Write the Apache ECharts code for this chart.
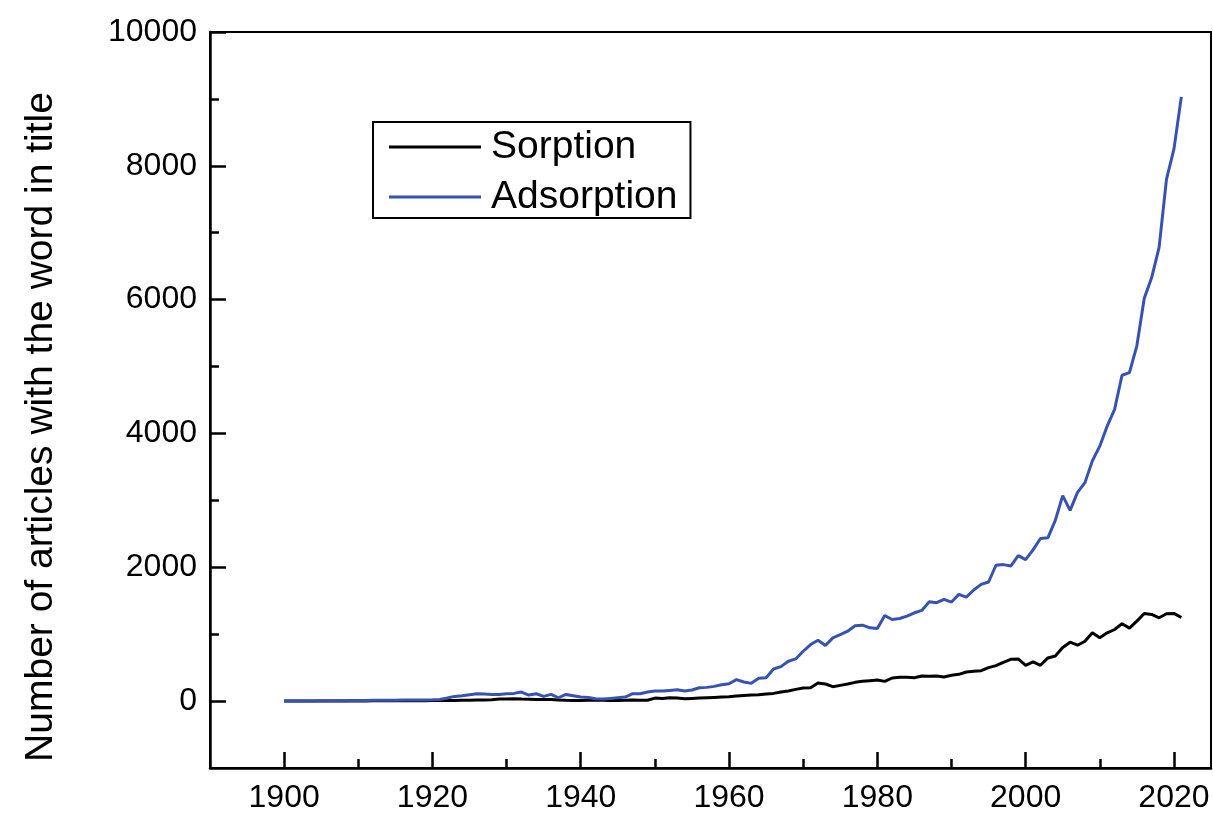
<!DOCTYPE html>
<html lang="en">

<head>
    <meta charset="UTF-8">
    <script type="text/javascript" src="https://cdn.jsdelivr.net/npm/echarts@6/dist/echarts.min.js"></script>
    <title>Sorption / Adsorption</title>
    <style type="text/css">
        html, body {
            margin: 0;
            padding: 0;
            background: #fff;
        }

        #chart {
            width: 1213px;
            height: 814px;
        }
    </style>
</head>

<body>
<div id="chart"></div>
<script type="text/javascript">
    const years = [
        1900, 1901, 1902, 1903, 1904, 1905, 1906, 1907, 1908, 1909,
        1910, 1911, 1912, 1913, 1914, 1915, 1916, 1917, 1918, 1919,
        1920, 1921, 1922, 1923, 1924, 1925, 1926, 1927, 1928, 1929,
        1930, 1931, 1932, 1933, 1934, 1935, 1936, 1937, 1938, 1939,
        1940, 1941, 1942, 1943, 1944, 1945, 1946, 1947, 1948, 1949,
        1950, 1951, 1952, 1953, 1954, 1955, 1956, 1957, 1958, 1959,
        1960, 1961, 1962, 1963, 1964, 1965, 1966, 1967, 1968, 1969,
        1970, 1971, 1972, 1973, 1974, 1975, 1976, 1977, 1978, 1979,
        1980, 1981, 1982, 1983, 1984, 1985, 1986, 1987, 1988, 1989,
        1990, 1991, 1992, 1993, 1994, 1995, 1996, 1997, 1998, 1999,
        2000, 2001, 2002, 2003, 2004, 2005, 2006, 2007, 2008, 2009,
        2010, 2011, 2012, 2013, 2014, 2015, 2016, 2017, 2018, 2019,
        2020, 2021
    ];

    const sorption = [
        0, 0, 0, 0, 0, 0, 0, 0, 0, 2,
        3, 3, 4, 4, 5, 5, 5, 5, 6, 6,
        8, 8, 10, 10, 12, 12, 15, 15, 20, 30,
        30, 35, 30, 28, 25, 25, 22, 15, 12, 10,
        10, 12, 15, 12, 10, 10, 12, 15, 12, 12,
        45, 40, 50, 45, 35, 40, 45, 50, 55, 60,
        65, 75, 85, 90, 95, 105, 115, 135, 150, 175,
        195, 200, 270, 255, 215, 235, 255, 280, 295, 305,
        315, 295, 345, 355, 355, 350, 375, 370, 375, 360,
        385, 400, 435, 445, 455, 500, 530, 580, 625, 630,
        535, 585, 535, 645, 675, 800, 880, 835, 895, 1020,
        945, 1020, 1070, 1155, 1090, 1195, 1310, 1295, 1245, 1305,
        1310, 1250
    ];

    const adsorption = [
        0, 0, 2, 3, 3, 4, 5, 5, 6, 8,
        10, 10, 12, 12, 14, 14, 15, 15, 16, 18,
        20, 25, 45, 70, 80, 95, 110, 105, 100, 100,
        110, 115, 135, 90, 110, 70, 100, 50, 100, 80,
        60, 55, 35, 30, 40, 50, 60, 110, 110, 135,
        150, 150, 160, 170, 150, 165, 200, 205, 220, 245,
        260, 320, 285, 265, 340, 350, 480, 515, 595, 630,
        745, 845, 910, 830, 945, 995, 1045, 1125, 1135, 1095,
        1085, 1280, 1220, 1235, 1270, 1320, 1355, 1485, 1470, 1520,
        1480, 1595, 1555, 1660, 1745, 1780, 2030, 2040, 2018, 2175,
        2115, 2260, 2430, 2440, 2700, 3070, 2850, 3120, 3265, 3590,
        3810, 4110, 4360, 4870, 4910, 5310, 6020, 6330, 6780, 7800,
        8250, 9030
    ];

    const xMajor = [1900, 1920, 1940, 1960, 1980, 2000, 2020];
    const xMinor = [1910, 1930, 1950, 1970, 1990, 2010];
    const yMajor = [0, 2000, 4000, 6000, 8000, 10000];
    const yMinor = [1000, 3000, 5000, 7000, 9000];

    const font = "'Liberation Sans', Arial, sans-serif";
    let chart = echarts.init(document.getElementById('chart'));

    function pairs(values) {
        return years.map((y, i) => [y, values[i]]);
    }

    function plain(v) {
        return String(v);
    }

    let tick = {color: '#000', width: 2.5};

    let option = {
        animation: false,
        grid: {
            left: 210,
            right: 2,
            top: 32,
            bottom: 46,
            show: true,
            borderColor: '#000',
            borderWidth: 2
        },
        legend: {
            data: ['Sorption', 'Adsorption'],
            orient: 'vertical',
            left: 373,
            top: 122,
            icon: 'rect',
            itemWidth: 92,
            itemHeight: 3,
            itemGap: 10,
            padding: [5, 13, 1, 16],
            borderColor: '#000',
            borderWidth: 2,
            textStyle: {
                fontFamily: font,
                fontSize: 39,
                lineHeight: 40,
                color: '#000',
                padding: [0, 0, 0, 5]
            }
        },
        graphic: [{
            type: 'text',
            x: 41,
            y: 427,
            rotation: Math.PI / 2,
            style: {
                text: 'Number of articles with the word in title',
                fontFamily: font,
                fontSize: 39,
                fill: '#000',
                align: 'center',
                verticalAlign: 'middle'
            }
        }],
        xAxis: [{
            type: 'value',
            min: 1890,
            max: 2025,
            axisLine: {onZero: false, lineStyle: tick},
            axisTick: {inside: true, length: 16, lineStyle: tick, customValues: xMajor},
            axisLabel: {customValues: xMajor, formatter: plain, fontFamily: font, fontSize: 32, color: '#000', margin: 14},
            splitLine: {show: false}
        }, {
            type: 'value',
            min: 1890,
            max: 2025,
            position: 'bottom',
            axisLine: {show: false, onZero: false},
            axisTick: {inside: true, length: 9, lineStyle: tick, customValues: xMinor},
            axisLabel: {show: false},
            splitLine: {show: false}
        }],
        yAxis: [{
            type: 'value',
            min: -1000,
            max: 10000,
            axisLine: {show: true, onZero: false, lineStyle: tick},
            axisTick: {show: true, inside: true, length: 16, lineStyle: tick, customValues: yMajor},
            axisLabel: {customValues: yMajor, formatter: plain, fontFamily: font, fontSize: 32, color: '#000', margin: 13},
            splitLine: {show: false}
        }, {
            type: 'value',
            min: -1000,
            max: 10000,
            position: 'left',
            axisLine: {show: false, onZero: false},
            axisTick: {show: true, inside: true, length: 9, lineStyle: tick, customValues: yMinor},
            axisLabel: {show: false},
            splitLine: {show: false}
        }],
        series: [
            {
                name: 'Sorption',
                type: 'line',
                xAxisIndex: 0,
                yAxisIndex: 0,
                symbol: 'none',
                itemStyle: {color: '#000'},
                lineStyle: {color: '#000', width: 3},
                data: pairs(sorption)
            },
            {
                name: 'Adsorption',
                type: 'line',
                xAxisIndex: 0,
                yAxisIndex: 0,
                symbol: 'none',
                itemStyle: {color: '#3753b0'},
                lineStyle: {color: '#3753b0', width: 3},
                data: pairs(adsorption)
            }
        ]
    };
    chart.setOption(option);
</script>
</body>

</html>
